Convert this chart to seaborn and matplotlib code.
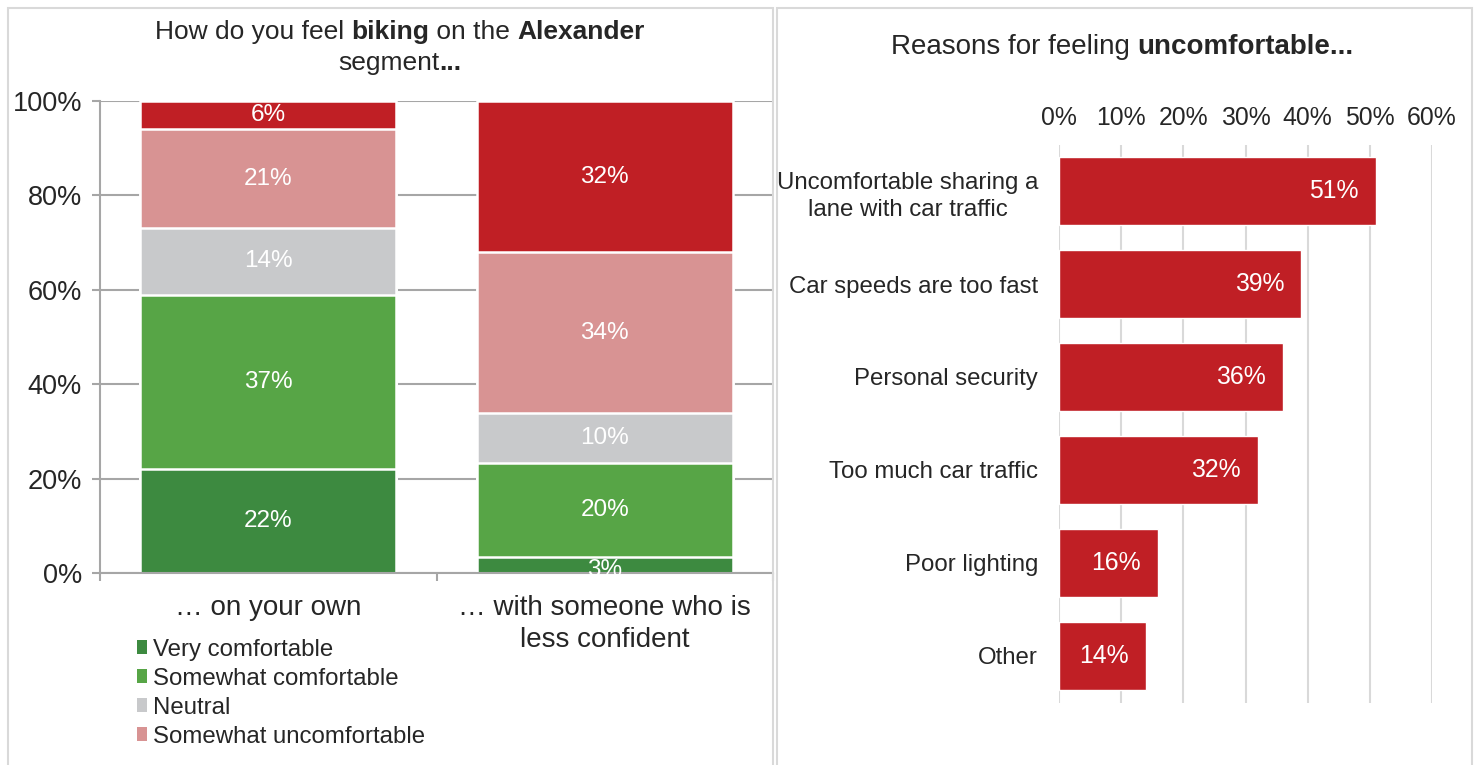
import matplotlib
matplotlib.use("Agg")
import matplotlib.pyplot as plt
from matplotlib.patches import Rectangle, Patch
from matplotlib.ticker import PercentFormatter, FixedLocator
import seaborn as sns
import pandas as pd
import numpy as np

sns.set_theme(style="white")
plt.rcParams["font.family"] = ["Liberation Sans", "DejaVu Sans"]

# ---- data -------------------------------------------------------------
groups = ["\u2026 on your own", "\u2026 with someone who is\nless confident"]
levels = ["Very comfortable", "Somewhat comfortable", "Neutral",
          "Somewhat uncomfortable", "Very uncomfortable"]
own_share = [22, 37, 14, 21, 6]
companion_share = [3.4, 20.0, 10.4, 34.2, 32.0]
level_colors = ["#3D8A40", "#57A546", "#C8C9CB", "#D89393", "#C01F25"]

reasons = ["Uncomfortable sharing a\nlane with car traffic",
           "Car speeds are too fast", "Personal security",
           "Too much car traffic", "Poor lighting", "Other"]
reason_share = [51, 39, 36, 32, 16, 14]
reason_color = "#C01F25"

TEXT = "#262626"
W, H = 1477, 765


def fx(px):
    return px / W


def fy(py):
    return 1 - py / H


fig = plt.figure(figsize=(W / 100, H / 100), dpi=100)
renderer = fig.canvas.get_renderer()

# panel frames
for x0, x1 in [(8, 773), (777, 1472)]:
    fig.patches.append(Rectangle((fx(x0), fy(780)), fx(x1) - fx(x0), fy(8) - fy(780),
                                 transform=fig.transFigure, fill=False,
                                 edgecolor="#D9D9D9", linewidth=1.5))


def rich_line(xc, yc, runs, size):
    """Centered single line made of plain/bold runs."""
    items = []
    total = 0
    for s, w in runs:
        t = fig.text(0, 0, s, fontsize=size, fontweight=w, color=TEXT,
                     ha="left", va="center")
        wd = t.get_window_extent(renderer).width
        items.append((t, wd))
        total += wd
    x = xc - total / 2
    for t, wd in items:
        t.set_position((fx(x), fy(yc)))
        x += wd


# ---- left: stacked bars ----------------------------------------------
axL = fig.add_axes([fx(100), fy(573), fx(773) - fx(100), fy(101) - fy(573)])
stack = pd.DataFrame({"group": np.repeat(groups, len(levels)),
                      "level": levels * len(groups),
                      "share": own_share + companion_share})
stack["top"] = stack.groupby("group", sort=False)["share"].cumsum()
stack["bottom"] = stack["top"] - stack["share"]

for lvl, col in reversed(list(zip(levels, level_colors))):
    sub = stack[stack["level"] == lvl]
    sns.barplot(data=sub, x="group", y="top", order=groups, color=col,
                width=0.76, edgecolor="white", linewidth=1.8,
                saturation=1, ax=axL, zorder=2)

for _, r in stack.iterrows():
    xi = groups.index(r["group"])
    axL.text(xi, r["bottom"] + r["share"] / 2 - (1.0 if r["share"] < 5 else 0),
             f"{r['share']:.0f}%", ha="center", va="center",
             color="white", fontsize=17.5, zorder=3)

axL.set_xlim(-0.5, 1.5)
axL.set_ylim(0, 100)
axL.yaxis.set_major_locator(FixedLocator([0, 20, 40, 60, 80, 100]))
axL.yaxis.set_major_formatter(PercentFormatter(decimals=0))
axL.grid(axis="y", color="#A6A6A6", linewidth=1.5, zorder=0)
axL.set_axisbelow(True)
for s in ["top", "right"]:
    axL.spines[s].set_visible(False)
for s in ["left", "bottom"]:
    axL.spines[s].set_color("#A6A6A6")
    axL.spines[s].set_linewidth(1.5)
axL.tick_params(axis="y", left=True, length=6, width=1.5, color="#A6A6A6",
                labelsize=19.5, labelcolor=TEXT, pad=7)
axL.tick_params(axis="x", bottom=False, labelsize=20, labelcolor=TEXT, pad=10)
axL.set_xticks([0, 1])
axL.set_xticklabels(groups, linespacing=1.3)
axL.set_xticks([-0.5, 0.5, 1.5], minor=True)
axL.tick_params(axis="x", which="minor", bottom=True, length=6, width=1.5,
                color="#A6A6A6")
axL.set_xlabel("")
axL.set_ylabel("")

rich_line(400, 32, [("How do you feel ", "normal"), ("biking", "bold"),
                    (" on the ", "normal"), ("Alexander", "bold")], 19)
rich_line(400, 63, [("segment", "normal"), ("...", "bold")], 19)

handles = [Patch(facecolor=c, edgecolor="none") for c in level_colors[:4]]
fig.legend(handles, levels[:4], loc="upper left",
           bbox_to_anchor=(fx(127), fy(629)), frameon=False, fontsize=17.3,
           handlelength=0.45, handleheight=0.5, handletextpad=0.25,
           labelspacing=0.29, borderaxespad=0, labelcolor=TEXT)

# ---- right: horizontal bars ------------------------------------------
axR = fig.add_axes([fx(1059), fy(702.5), fx(1432) - fx(1059), fy(144.5) - fy(702.5)])
reason_df = pd.DataFrame({"reason": reasons, "share": reason_share})
sns.barplot(data=reason_df, y="reason", x="share", orient="h", color=reason_color,
            saturation=1, width=0.73, ax=axR, zorder=2)
for i, v in enumerate(reason_share):
    axR.annotate(f"{v}%", (v, i), xytext=(-12.5, 0), textcoords="offset points",
                 ha="right", va="center", color="white", fontsize=17.8, zorder=3)

axR.set_xlim(0, 60)
axR.set_ylim(len(reasons) - 0.5, -0.5)
axR.xaxis.set_major_locator(FixedLocator(list(range(0, 61, 10))))
axR.xaxis.set_major_formatter(PercentFormatter(decimals=0))
axR.grid(axis="x", color="#D9D9D9", linewidth=1.5, zorder=0)
axR.set_axisbelow(True)
for s in axR.spines.values():
    s.set_visible(False)
axR.tick_params(axis="x", top=True, labeltop=True, bottom=False,
                labelbottom=False, length=0, labelsize=17.8, labelcolor=TEXT, pad=10.5)
axR.tick_params(axis="y", left=False, length=0, labelsize=17.3,
                labelcolor=TEXT, pad=15)
for t in axR.get_yticklabels():
    t.set_horizontalalignment("right")
    t.set_multialignment("center")
    t.set_linespacing(1.3)
axR.set_xlabel("")
axR.set_ylabel("")

rich_line(1122, 47, [("Reasons for feeling ", "normal"),
                     ("uncomfortable...", "bold")], 20)

fig.savefig("out.png", dpi=100)
